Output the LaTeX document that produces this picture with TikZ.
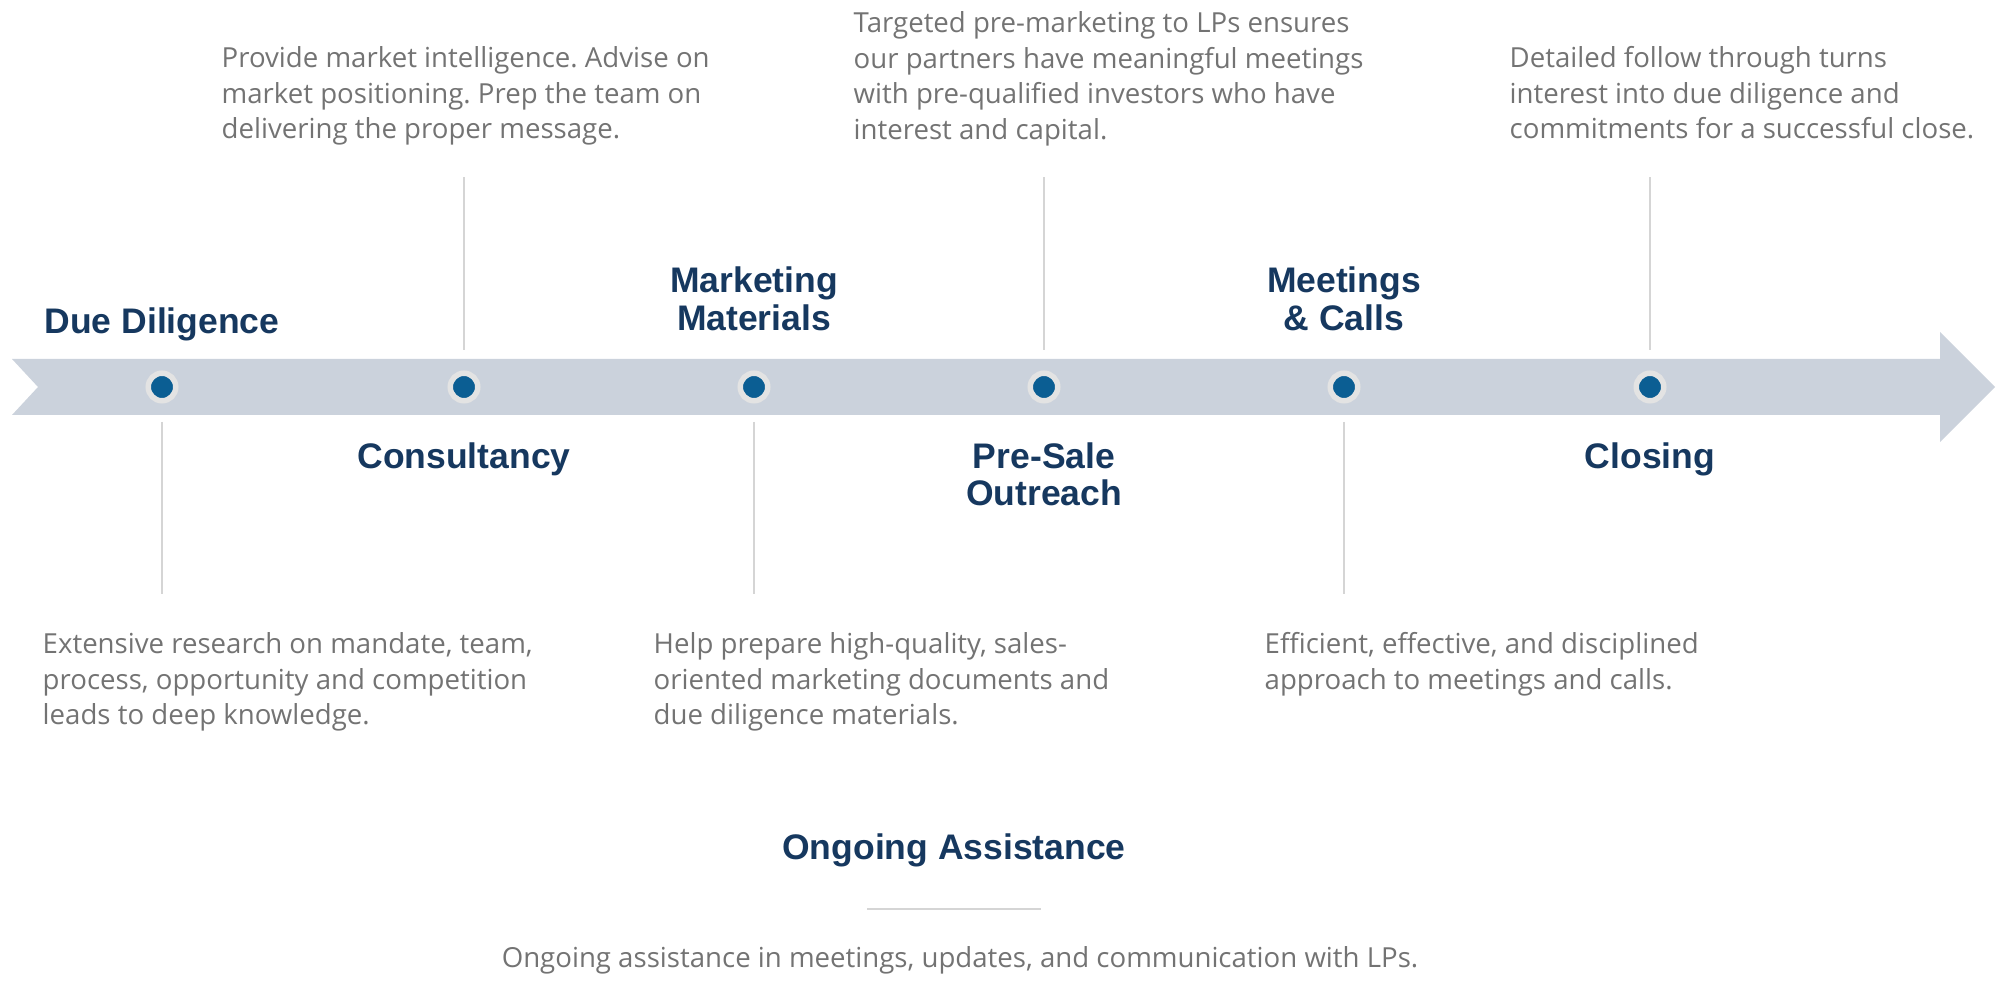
\documentclass[tikz,border=0pt]{standalone}
\usepackage{fontspec}
\setmainfont{Open Sans}
\newfontfamily\headfont{Liberation Sans}
\usepackage{tikz}
\usetikzlibrary{positioning}
\definecolor{navy}{HTML}{16385F}
\definecolor{bodygray}{HTML}{737373}
\definecolor{band}{HTML}{CBD2DC}
\definecolor{dotblue}{HTML}{0B5E93}
\definecolor{ringgray}{HTML}{E3E3E3}
\definecolor{tickgray}{HTML}{D5D5D5}
\frenchspacing

\begin{document}
\begin{tikzpicture}[x=0.01cm, y=-0.01cm,
    stage/.style={font=\headfont\bfseries\fontsize{10.1}{10.7}\selectfont, text=navy, align=center, inner sep=0pt, anchor=north},
    blurb/.style={font=\fontsize{7.85}{10.1}\selectfont, text=bodygray, align=left, inner sep=0pt, anchor=north west},
    milestone/.style={circle, fill=dotblue, draw=ringgray, line width=0.055cm, minimum size=0.275cm, inner sep=0pt},
    tick/.style={draw=tickgray, line width=0.6pt}]
    \useasboundingbox (0,0) rectangle (2000,986);
    % timeline arrow
    \fill[band] (12,359) -- (38,387) -- (12,415) -- (1940,415) -- (1940,442) -- (1995,387) -- (1940,332) -- (1940,359) -- cycle;
    % milestones on the arrow
    \foreach \i/\x in {1/162,2/464,3/754,4/1044,5/1344,6/1650}
        \node[milestone] (d\i) at (\x,387) {};
    % ticks above and below
    \foreach \i in {2,4,6} {
        \coordinate (lo\i) at (d\i |- 0,350);
        \coordinate (hi\i) at (d\i |- 0,177);
        \draw[tick] (lo\i) -- (hi\i);
    }
    \foreach \i in {1,3,5} {
        \coordinate (lo\i) at (d\i |- 0,422);
        \coordinate (hi\i) at (d\i |- 0,594);
        \draw[tick] (lo\i) -- (hi\i);
    }
    % stage titles
    \node[stage] (dd) at (d1 |- 0,306.6) {Due Diligence};
    \node[stage] (con) at (d2 |- 0,441.6) {Consultancy};
    \node[stage] (mm) at (d3 |- 0,266) {Marketing\\Materials};
    \node[stage] (ps) at (d4 |- 0,441.6) {Pre-Sale\\Outreach};
    \node[stage] (mc) at (d5 |- 0,266) {Meetings\\\& Calls};
    \node[stage] (cl) at (d6 |- 0,441.6) {Closing};
    % descriptions
    \node[blurb] (t2) at (221,46) {Provide market intelligence. Advise on\\market positioning. Prep the team on\\delivering the proper message.};
    \node[blurb] (t4) at (853,11) {Targeted pre-marketing to LPs ensures\\our partners have meaningful meetings\\with pre-qualified investors who have\\interest and capital.};
    \node[blurb] (t6) at (1509,46) {Detailed follow through turns\\interest into due diligence and\\commitments for a successful close.};
    \node[blurb] (b1) at (42,632) {Extensive research on mandate, team,\\process, opportunity and competition\\leads to deep knowledge.};
    \node[blurb] (b3) at (653,632) {Help prepare high-quality, sales-\\oriented marketing documents and\\due diligence materials.};
    \node[blurb] (b5) at (1264,632) {Efficient, effective, and disciplined\\approach to meetings and calls.};
    % ongoing assistance
    \node[stage] (oa) at (954,832.6) {Ongoing Assistance};
    \coordinate (r1) at (867,909);
    \coordinate (r2) at (1041,909);
    \draw[tick] (r1) -- (r2);
    \node[blurb, anchor=base] (od) at (960,968) {Ongoing assistance in meetings, updates, and communication with LPs.};
\end{tikzpicture}
\end{document}
